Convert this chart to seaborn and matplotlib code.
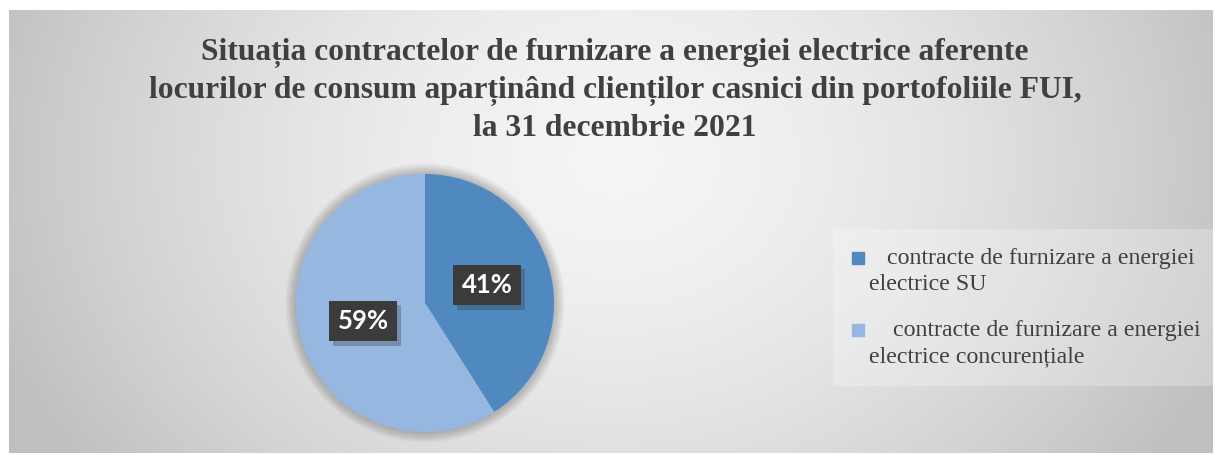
import matplotlib
matplotlib.use("Agg")
import matplotlib.pyplot as plt
import matplotlib.patches as mpatches
import matplotlib.patheffects as pe
from matplotlib.legend_handler import HandlerPatch
import numpy as np
import seaborn as sns

# Data
categories = [
    "   contracte de furnizare a energiei\nelectrice SU",
    "    contracte de furnizare a energiei\nelectrice concurențiale",
]
shares = [41, 59]
colors = ["#4f89bf", "#96b8e0"]
title = ("Situația contractelor de furnizare a energiei electrice aferente\n"
         "locurilor de consum aparținând clienților casnici din portofoliile FUI,\n"
         "la 31 decembrie 2021")

sns.set_theme(style="white")
plt.rcParams["font.family"] = ["Liberation Serif", "DejaVu Serif"]

W, H = 1215, 455
fig = plt.figure(figsize=(W / 100, H / 100), dpi=100)
fig.patch.set_facecolor("white")

# gradient panel background
bg = fig.add_axes([9 / W, 2 / H, 1204 / W, 443 / H])
yy, xx = np.mgrid[0:443, 0:1204]
d = np.sqrt(((xx - 606) / 620) ** 2 + ((yy - 150) / 500) ** 2)
shade = np.clip(0.96 - 0.19 * d ** 1.6, 0.75, 1)
bg.imshow(np.dstack([shade] * 3), aspect="auto", interpolation="bilinear")
bg.set_axis_off()

# title
fig.text(615 / W, 1 - 38 / H, title, ha="center", va="top", fontsize=22.7,
         fontweight="bold", color="#404040", linespacing=1.37)

# pie
r = 129
ax = fig.add_axes([(425 - r) / W, (H - 303 - r) / H, 2 * r / W, 2 * r / H])
# soft halo behind the pie
for k in range(14):
    ax.add_patch(mpatches.Circle((0, 0), 1 + 0.006 * (k + 1), color="#000000",
                                 alpha=0.014, lw=0, zorder=0, clip_on=False))
wedges, texts, autotexts = ax.pie(
    shares, colors=colors, startangle=90, counterclock=False,
    autopct=lambda p: f"{p:.0f}%", pctdistance=0.5,
    wedgeprops=dict(linewidth=0),
    textprops=dict(color="white", fontsize=18.5, fontweight="bold", family="Lato"),
)
for t in autotexts:
    t.set_bbox(dict(boxstyle="square,pad=0.33", fc="#3b3b3b", ec="none"))
    t.get_bbox_patch().set_path_effects(
        [pe.SimplePatchShadow(offset=(3, -3), shadow_rgbFace="#333333", alpha=0.3), pe.Normal()])
ax.set_xlim(-1, 1)
ax.set_ylim(-1, 1)
ax.set_axis_off()


def square_top(legend, orig_handle, xdescent, ydescent, width, height, fontsize):
    s = 0.5 * fontsize
    return mpatches.Rectangle((-xdescent, -ydescent + height / 2 - s / 2 + 0.55 * fontsize), s, s)


handles = [mpatches.Patch(color=c) for c in colors]
leg = fig.legend(handles, categories, loc="upper left",
                 bbox_to_anchor=(840 / W, 1 - 236 / H), borderaxespad=0,
                 fontsize=17.2, labelcolor="#404040", frameon=True,
                 handlelength=0.5, handletextpad=0.2, labelspacing=1.05,
                 borderpad=0.5, handler_map={mpatches.Patch: HandlerPatch(patch_func=square_top)})
leg.get_frame().set_facecolor("white")
leg.get_frame().set_alpha(0.25)
leg.get_frame().set_edgecolor("none")
leg.get_frame().set_boxstyle("square")
for t in leg.get_texts():
    t.set_linespacing(1.31)

fig.savefig("out.png", dpi=100)
